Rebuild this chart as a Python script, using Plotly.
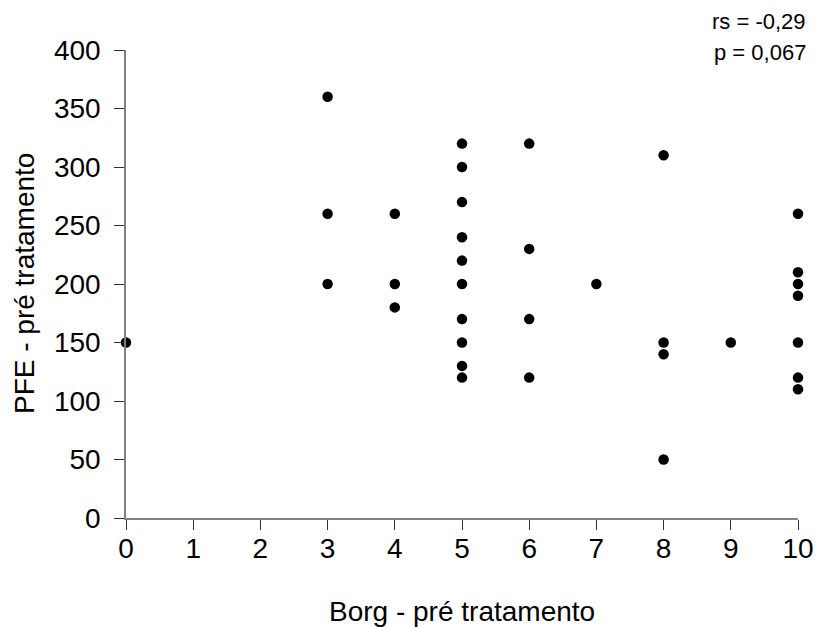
import plotly.graph_objects as go

# Data (Borg vs PFE pré tratamento)
borg = [0,
        3, 3, 3,
        4, 4, 4,
        5, 5, 5, 5, 5, 5, 5, 5, 5, 5,
        6, 6, 6, 6,
        7,
        8, 8, 8, 8,
        9,
        10, 10, 10, 10, 10, 10, 10]
pfe = [150,
       360, 260, 200,
       260, 200, 180,
       320, 300, 270, 240, 220, 200, 170, 150, 130, 120,
       320, 230, 170, 120,
       200,
       310, 150, 140, 50,
       150,
       260, 210, 200, 190, 150, 120, 110]

x_ticks = list(range(0, 11))
y_ticks = list(range(0, 401, 50))
x_title = "Borg - pré tratamento"
y_title = "PFE - pré tratamento"
stats_lines = ["rs = -0,29", "p = 0,067"]

FONT = "Liberation Sans, Arial, sans-serif"
W, H = 816, 627
L, R, T, B = 126, 18, 50, 109
pw = W - L - R
ph = H - T - B


def px_x(p):
    return (p - L) / pw


def px_y(p):
    return (H - B - p) / ph


fig = go.Figure()
fig.add_trace(go.Scatter(
    x=borg, y=pfe, mode="markers",
    marker=dict(color="black", size=10.5, symbol="circle"),
    cliponaxis=False, showlegend=False,
))

axis_common = dict(
    showgrid=False, zeroline=False, showline=True, automargin=False,
    linecolor="#808080", linewidth=1.5,
    ticks="outside", ticklen=10, tickwidth=1.2, tickcolor="#303030",
    tickfont=dict(family=FONT, size=28, color="black"),
)

fig.update_xaxes(
    range=[0, 10], tickvals=x_ticks, ticktext=[str(v) for v in x_ticks],
    ticklabelstandoff=-5,
    **axis_common,
)
fig.update_yaxes(
    range=[0, 400], tickvals=y_ticks, ticktext=[str(v) for v in y_ticks],
    ticklabelstandoff=8,
    **axis_common,
)

# Axis titles
fig.add_annotation(
    x=px_x(L + pw / 2), y=px_y(611), xref="paper", yref="paper",
    text=x_title, showarrow=False, xanchor="center", yanchor="middle",
    font=dict(family=FONT, size=28, color="black"),
)
fig.add_annotation(
    x=px_x(24), y=px_y(T + ph / 2), xref="paper", yref="paper",
    text=y_title, showarrow=False, xanchor="center", yanchor="middle",
    textangle=-90,
    font=dict(family=FONT, size=28, color="black"),
)

# Statistics text
for txt, ypx in zip(stats_lines, [21, 53]):
    fig.add_annotation(
        x=px_x(808), y=px_y(ypx), xref="paper", yref="paper",
        text=txt, showarrow=False, xanchor="right", yanchor="middle",
        font=dict(family=FONT, size=22, color="black"),
    )

fig.update_layout(
    width=W, height=H,
    margin=dict(l=L, r=R, t=T, b=B),
    paper_bgcolor="white", plot_bgcolor="white",
    font=dict(family=FONT, color="black"),
)

fig.write_html(
    "out.html",
    config={"displayModeBar": False},
    post_script="document.body.style.margin='0';document.body.style.overflow='hidden';",
)
